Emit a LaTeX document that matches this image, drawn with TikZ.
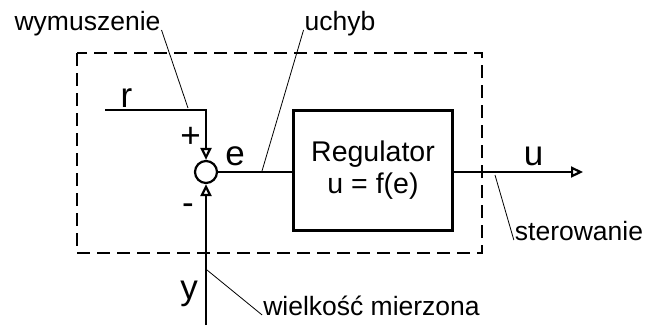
\documentclass[tikz,border=0pt]{standalone}
\usepackage{fontspec}
\setmainfont{Liberation Sans}
\usetikzlibrary{arrows.meta,positioning,calc}

\begin{document}
\begin{tikzpicture}[x=1pt,y=-1pt,line width=2.2pt,
    lbl/.style={font=\fontsize{26.5}{30}\selectfont,inner sep=0pt,anchor=base},
    sym/.style={lbl,font=\fontsize{35}{40}\selectfont},
    pin/.style={line width=0.8pt},
    sig/.style={-{Triangle[open,length=12pt,width=11pt]}}]
                \useasboundingbox (0,0) rectangle (660,325);
                % obszar regulatora
                \draw[line width=2.6pt,dash pattern=on 13pt off 7pt] (77,53) rectangle (482,253);
                \node[draw,circle,minimum size=22pt,inner sep=0pt] (sum) at (206,172) {};
                \node[draw,minimum width=159pt,minimum height=120pt,align=center,font=\fontsize{28.5}{32}\selectfont] (reg) at (373,170.5) {Regulator\\u = f(e)};
                \coordinate (rin) at (105,110);
                \coordinate (yin) at (206,325);
                \coordinate (uout) at (583,172);
                % sygnaly
                \draw[sig] (rin) -| (sum);
                \draw[sig] (yin) -- (sum);
                \draw (sum.east) -- (sum.east -| reg.west);
                \draw[sig] (reg.east |- sum) -- (uout);
                % opisy
                \node[sym] (r) at (126.5,107) {r};
                \node[sym] (plus) at (190.5,147) {+};
                \node[sym] (minus) at (188,214) {-};
                \node[sym] (e) at (235,165) {e};
                \node[sym] (y) at (189,299) {y};
                \node[sym] (u) at (533.5,165) {u};
                \node[lbl] (wym) at (87.5,30) {wymuszenie};
                \node[lbl] (uchyb) at (340,30) {uchyb};
                \node[lbl] (ster) at (579,240) {sterowanie};
                \node[lbl] (wm) at (371.5,315) {wielkość mierzona};
                \coordinate (pw) at (188,108);
                \coordinate (pe) at (262,171);
                \coordinate (pu) at (495,175);
                \coordinate (py) at (207,270);
                \draw[pin] (wym.base east) -- (pw);
                \draw[pin] (uchyb.base west) -- (pe);
                \draw[pin] (ster.base west) -- (pu);
                \draw[pin] (wm.base west) -- (py);
            \end{tikzpicture}
\end{document}
